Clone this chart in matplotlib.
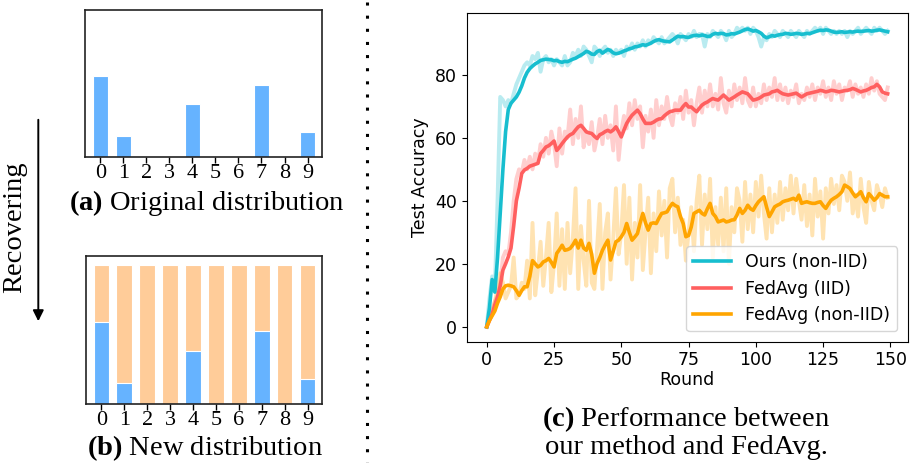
"""Label distribution recovery and accuracy curves (ours vs FedAvg)."""
import matplotlib
matplotlib.use("Agg")
import matplotlib.pyplot as plt
from matplotlib.lines import Line2D
import numpy as np

plt.rcParams["mathtext.fontset"] = "custom"
plt.rcParams["mathtext.rm"] = "Liberation Serif"
plt.rcParams["mathtext.bf"] = "Liberation Serif:bold"

# ---- data -------------------------------------------------------------
classes = [0, 1, 2, 3, 4, 5, 6, 7, 8, 9]
orig_dist = [0.55, 0.14, 0, 0, 0.36, 0, 0, 0.49, 0, 0.17]
recovered = [0.94] * 10

ours_smooth = [
    0, 6, 15, 11, 22, 36, 50, 62, 69, 71,
    72, 73, 74.5, 76.5, 79, 80.8, 82, 82.8, 83.5, 84,
    84.6, 84.8, 85, 84.9, 84.8, 84.5, 84.6, 84.2, 84, 84.3,
    84.2, 84.6, 85, 85.3, 85.8, 86.3, 86.8, 87.5, 87.2, 86.6,
    86.5, 87.4, 87.8, 86.9, 87.5, 88.1, 87.7, 87, 86.7, 86.9,
    87.2, 87.6, 87.9, 88.3, 88.5, 88.9, 89, 89.3, 89.6, 89.4,
    89.7, 90.1, 90.6, 91, 91.2, 90.9, 90.7, 90.6, 90.5, 91.1,
    91.7, 92.3, 92.1, 92.2, 92, 91.9, 92.3, 92.5, 92.6, 92.4,
    92.7, 92.5, 92.2, 92.3, 92.9, 93.2, 93, 93.2, 93.1, 92.7,
    92.8, 93.1, 93, 93.3, 93.6, 94, 94.4, 94.6, 94.3, 93.9,
    94.1, 93.7, 93.2, 92.3, 91.8, 92.1, 92.5, 92.3, 92.6, 92.8,
    92.9, 93.2, 93.1, 92.9, 93, 93.2, 93.1, 92.9, 93, 93.2,
    93.1, 93.4, 93.7, 94, 94.2, 94.1, 94.3, 94.2, 93.9, 93.6,
    93.5, 93.6, 93.7, 93.5, 93.6, 93.7, 93.6, 93.8, 93.9, 93.8,
    93.9, 94, 94.1, 93.9, 94, 94.2, 94.3, 94.1, 93.9, 93.7,
]
ours_raw = [
    0, 9, 16, 12, 40, 73, 72, 70, 72, 71,
    74, 77, 79, 81, 83, 84, 83, 86, 85, 87,
    81, 85, 86, 84, 85, 83, 85, 84, 83, 86,
    83, 84, 87, 86, 88, 86, 89, 88, 86, 84,
    89, 88, 86, 88, 89, 87, 88, 86, 88, 87,
    88, 86, 89, 88, 90, 88, 90, 89, 91, 89,
    91, 90, 92, 91, 90, 92, 90, 91, 92, 93,
    92, 90, 93, 92, 91, 93, 92, 94, 92, 93,
    93, 89, 93, 92, 94, 93, 92, 94, 93, 91,
    94, 92, 93, 95, 94, 95, 94, 95, 93, 95,
    94, 92, 89, 92, 91, 93, 92, 94, 93, 92,
    94, 93, 92, 94, 93, 92, 94, 93, 92, 94,
    93, 94, 95, 94, 95, 93, 95, 94, 93, 94,
    93, 94, 93, 94, 92, 94, 93, 94, 95, 93,
    94, 95, 94, 93, 95, 94, 95, 94, 93, 94,
]

iid_smooth = [
    0, 2, 4, 7, 9.5, 13, 18, 20, 22.2, 25,
    32, 40, 44, 48.7, 49.8, 50.3, 51, 51.3, 51.6, 51.9,
    55, 56, 57.1, 57.5, 58.2, 59, 56, 57, 58.2, 59.3,
    60.3, 61, 61.4, 62.5, 63.5, 64, 63, 61.9, 61.6, 61.4,
    60.5, 59.8, 61, 61.4, 62, 62.4, 61.9, 62.5, 63.5, 62,
    60.3, 62.5, 64.6, 66, 67.2, 68, 68.8, 67.7, 66, 64.6,
    64.6, 64.6, 65, 65.6, 66, 66.1, 67, 67.7, 68.3, 68.5,
    68.8, 68.8, 68.8, 70, 70.9, 69.8, 69.8, 69, 68.3, 69.4,
    70.4, 71, 71.4, 72, 72.5, 72.2, 72, 72.8, 73.6, 72.8,
    72, 72.5, 73, 73.6, 74.1, 74.6, 74.3, 74, 73, 72,
    72.2, 72.5, 73, 73.6, 73.8, 74, 74.6, 74.8, 75.1, 74.5,
    74, 73.8, 73.6, 73.8, 74, 74.2, 73.6, 73, 73.5, 74,
    74.2, 74.4, 74.6, 74.8, 75.1, 74.9, 74.6, 74.8, 75.1, 75,
    74.8, 74.6, 74.8, 75, 75.1, 75.3, 75.7, 75.4, 75, 74.6,
    74.9, 75.1, 75.5, 76, 76.2, 77, 76.2, 74.6, 74.2, 74,
]
iid_raw = [
    0, 3, 5, 8, 10, 14, 22, 24, 23, 30,
    40, 47, 50, 49, 53, 50, 54, 50, 55, 52,
    58, 54, 60, 55, 62, 58, 51, 63, 55, 62,
    60, 69, 58, 66, 60, 70, 57, 62, 58, 65,
    56, 60, 66, 58, 67, 60, 64, 56, 70, 53,
    62, 67, 63, 71, 64, 72, 66, 70, 57, 67,
    62, 69, 60, 72, 64, 70, 66, 73, 67, 64,
    71, 68, 73, 66, 75, 68, 72, 64, 71, 76,
    68, 75, 70, 77, 70, 74, 69, 79, 71, 68,
    75, 70, 77, 72, 76, 71, 79, 72, 70, 76,
    70, 74, 71, 77, 72, 76, 73, 79, 72, 77,
    72, 76, 71, 75, 73, 77, 71, 74, 72, 76,
    73, 77, 72, 76, 74, 78, 73, 76, 72, 78,
    74, 77, 72, 76, 75, 78, 73, 77, 74, 76,
    73, 77, 74, 79, 75, 78, 74, 73, 72, 76,
]

noniid_smooth = [
    0, 2, 3.5, 5, 7.5, 9.5, 12, 13, 13.2, 13,
    12.7, 11.5, 10, 11.5, 12.7, 12.7, 16, 21, 20, 19,
    19.5, 20.6, 21, 21.7, 20.5, 19, 23.3, 24.5, 25.9, 24.3,
    24.5, 24.9, 26, 27.5, 25, 27.5, 25, 24.3, 26.5, 23,
    17, 20.1, 22, 24.3, 26, 27.5, 21.2, 24, 27, 27.5,
    28.6, 30, 32.8, 30, 27.5, 28.5, 29.6, 33, 36, 33,
    30.7, 32.8, 33, 32.8, 34.5, 36, 36.2, 36.5, 38, 39.2,
    38.5, 38.1, 35, 32.8, 28.6, 29, 31.7, 36, 36.5, 37,
    36, 35.5, 37.5, 39.2, 36, 35, 33.3, 33.6, 33.9, 33.3,
    33.5, 33.9, 34, 35.5, 37.6, 36, 37, 38.6, 37.5, 37,
    38.5, 39.7, 40.5, 41.3, 38, 35, 36.5, 38.1, 38.6, 39,
    39.7, 40, 40.2, 40.5, 40.8, 40.2, 41.8, 39.2, 39.5, 39.7,
    39.4, 39.2, 39.2, 39.5, 39.7, 38.5, 37.6, 39, 40.2, 40.8,
    41.3, 42, 42.9, 45, 44.5, 43.9, 42.5, 41.3, 42, 42.9,
    41, 39.7, 42.3, 41.3, 40.2, 41, 42.3, 41.8, 41.3, 41.3,
]
noniid_raw = [
    0, 3, 5, 8, 12, 17, 14, 9, 11, 13,
    22, 9, 10, 14, 12, 21, 9, 33, 10, 18,
    27, 13, 22, 33, 11, 20, 36, 13, 31, 12,
    33, 17, 28, 44, 12, 32, 21, 13, 40, 14,
    12, 25, 39, 12, 30, 36, 15, 28, 44, 23,
    30, 45, 20, 41, 15, 33, 22, 45, 18, 30,
    41, 17, 36, 24, 43, 29, 40, 22, 44, 47,
    30, 41, 26, 34, 21, 30, 38, 24, 40, 48,
    26, 42, 31, 47, 22, 38, 26, 41, 24, 44,
    20, 38, 30, 44, 40, 27, 46, 31, 42, 30,
    46, 35, 48, 36, 28, 44, 30, 42, 33, 46,
    34, 44, 37, 48, 36, 47, 40, 34, 45, 32,
    42, 29, 47, 35, 43, 28, 44, 36, 47, 39,
    45, 37, 48, 46, 40, 49, 36, 42, 35, 47,
    38, 33, 46, 40, 37, 45, 42, 38, 44, 41,
]

series = [
    ("Ours (non-IID)", ours_raw, ours_smooth, "#17becf"),
    ("FedAvg (IID)", iid_raw, iid_smooth, "#ff5f5f"),
    ("FedAvg (non-IID)", noniid_raw, noniid_smooth, "#ffa500"),
]

BLUE = "#66b3ff"
PEACH = "#ffcc99"
SERIF = "Liberation Serif"

fig = plt.figure(figsize=(9.13, 4.66), dpi=100)


def style_bar_axes(ax):
    ax.set_xlim(-0.67, 9.63)
    ax.set_ylim(0, 1)
    ax.set_yticks([])
    ax.set_xticks(classes)
    ax.set_xticklabels([str(c) for c in classes], family=SERIF, fontsize=16)
    ax.tick_params(axis="x", length=4, width=1, pad=1)
    for sp in ax.spines.values():
        sp.set_linewidth(1.2)
        sp.set_color("#222222")


# (a) original distribution
ax_a = fig.add_axes([0.0931, 0.6637, 0.2596, 0.3148])
ax_a.bar(classes, orig_dist, width=0.68, color=BLUE, edgecolor="white", linewidth=0.8)
style_bar_axes(ax_a)

# (b) recovered distribution
ax_b = fig.add_axes([0.0942, 0.1337, 0.2585, 0.317])
ax_b.bar(classes, recovered, width=0.68, color=PEACH, edgecolor="white", linewidth=0.8)
ax_b.bar(classes, orig_dist, width=0.68, color=BLUE, edgecolor="white", linewidth=0.8)
style_bar_axes(ax_b)

# (c) accuracy curves
ax_c = fig.add_axes([0.5112, 0.2667, 0.483, 0.706])
rounds = np.arange(len(ours_smooth))
for label, raw, smooth, color in series:
    ax_c.plot(rounds, raw, color=color, alpha=0.3, lw=2.8)
for label, raw, smooth, color in series:
    ax_c.plot(rounds, smooth, color=color, lw=2.6, label=label)
ax_c.set_xticks([0, 25, 50, 75, 100, 125, 150])
ax_c.set_yticks([0, 20, 40, 60, 80])
ax_c.tick_params(labelsize=12.5)
ax_c.set_xlabel("Round", fontsize=12.5, labelpad=1)
ax_c.set_ylabel("Test Accuracy", fontsize=12.5)
ax_c.legend(loc="lower right", fontsize=12.5, handlelength=2.2, borderaxespad=0.6)

# captions
CAP = 20.5
fig.text(207 / 913, 1 - 203 / 466, r"$\mathbf{(a)}$ Original distribution",
         family=SERIF, fontsize=CAP, ha="center", va="center")
fig.text(205 / 913, 1 - 448 / 466, r"$\mathbf{(b)}$ New distribution",
         family=SERIF, fontsize=CAP, ha="center", va="center")
fig.text(686 / 913, 1 - 432 / 466,
         "$\\mathbf{(c)}$ Performance between\nour method and FedAvg.",
         family=SERIF, fontsize=CAP, ha="center", va="center", linespacing=1.05)

# recovering arrow
fig.text(15 / 913, 1 - 227 / 466, "Recovering", family=SERIF, fontsize=CAP,
         rotation=90, ha="center", va="center")
fig.patches.append(matplotlib.patches.FancyArrowPatch(
    (38.3 / 913, 1 - 117 / 466), (38.3 / 913, 1 - 324 / 466),
    transform=fig.transFigure, arrowstyle="-|>", mutation_scale=16,
    lw=1.4, color="black"))

# dotted separator
fig.add_artist(Line2D([367.3 / 913, 367.3 / 913], [1 - 2 / 466, 1 - 462 / 466],
                      transform=fig.transFigure, color="black", lw=2.2,
                      linestyle=(0, (1, 3.3)), dash_capstyle="butt"))

fig.savefig("out.png", dpi=100)
